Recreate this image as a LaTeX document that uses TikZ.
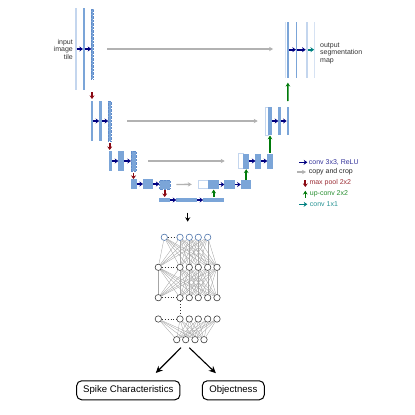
\documentclass[tikz,border=0pt]{standalone}
\usepackage{fontspec}
\setmainfont{Liberation Sans}
\usetikzlibrary{arrows.meta}
\definecolor{UnetBlue}{HTML}{7BA5D8}
\definecolor{UnetPale}{HTML}{C4D6EE}
\definecolor{UnetEdge}{HTML}{5F8CCB}
\definecolor{UnetNavy}{HTML}{000080}
\definecolor{UnetRed}{HTML}{8B0A14}
\definecolor{UnetGreen}{HTML}{007A0A}
\definecolor{UnetTeal}{HTML}{008080}
\definecolor{UnetGrey}{HTML}{B2B2B2}
\begin{document}
\begin{tikzpicture}[x=1pt,y=-1pt]
\tikzset{wh/.style 2 args={minimum width=#1pt,minimum height=#2pt},
barbox/.style={fill=UnetBlue,inner sep=0pt,outer sep=0pt},
palebox/.style={fill=UnetPale,inner sep=0pt,outer sep=0pt},
dotbox/.style={barbox,draw=UnetEdge,densely dotted,line width=.4pt},
whitebox/.style={fill=white,draw=UnetPale,line width=.7pt,inner sep=0pt,outer sep=0pt},
conv/.style={-{Stealth[length=3.6pt,width=5pt]},UnetNavy,line width=1.6pt},
final/.style={-{Stealth[length=3.6pt,width=5pt]},UnetTeal,line width=1.6pt},
crop/.style={-{Stealth[length=4pt,width=4.4pt]},UnetGrey,line width=1.3pt},
pool/.style={-{Stealth[length=3.6pt,width=5pt]},UnetRed,line width=1.7pt},
upconv/.style={-{Stealth[length=3.8pt,width=4.6pt]},UnetGreen,line width=1.6pt},
neuron/.style={circle,draw=black!75,fill=white,line width=.6pt,inner sep=0pt,minimum size=6.4pt},
inneuron/.style={neuron,draw=UnetEdge!85!black},
link/.style={black!35,line width=.35pt},
caption/.style={font=\fontsize{7}{7.5}\selectfont,text=black!80,inner sep=0pt},
legend/.style={font=\fontsize{7}{7.5}\selectfont,anchor=west,inner sep=0pt},
outbox/.style={draw=black,line width=1pt,rounded corners=5pt,font=\fontsize{9.6}{11}\selectfont,minimum height=19pt,inner sep=0pt},
bigarr/.style={-{Stealth[length=7pt,width=6.5pt]},black,line width=1.1pt}}
\useasboundingbox (0,0) rectangle (415,415);
% contracting side
\node[palebox,wh={1.6}{82}] (a1) at (75.7,49) {};
\node[barbox,wh={1.6}{82}] (a2) at (83.7,49) {};
\node[dotbox,wh={1.4}{70}] (a3) at (92,44) {};
\node[barbox,wh={1.6}{40}] (b1) at (92,121) {};
\node[barbox,wh={3}{40}] (b2) at (100.7,121) {};
\node[dotbox,wh={3}{40}] (b3) at (109.7,121) {};
\node[barbox,wh={3}{20}] (c1) at (110.7,161) {};
\node[barbox,wh={5.4}{20}] (c2) at (121,161) {};
\node[dotbox,wh={5}{20}] (c3) at (133.5,161) {};
\node[barbox,wh={5.6}{10}] (d1) at (133.9,184) {};
\node[barbox,wh={10.4}{10}] (d2) at (148.2,184) {};
\node[dotbox,wh={10.4}{9}] (d3) at (164.7,184.5) {};
% bottom
\node[barbox,wh={11}{4.6}] (e1) at (164.5,200) {};
\node[barbox,wh={21}{4.6}] (e2) at (186.8,200) {};
\node[barbox,wh={21}{4.6}] (e3) at (213.7,200) {};
% expanding side
\node[whitebox,wh={10}{8.7}] (f0) at (203.3,184.3) {};
\node[barbox,wh={10.7}{9}] (f1) at (213.7,184.5) {};
\node[barbox,wh={10.7}{9}] (f2) at (229.7,184.5) {};
\node[barbox,wh={10.3}{9}] (f3) at (245.9,184.5) {};
\node[whitebox,wh={5.2}{15}] (g0) at (240.8,161) {};
\node[barbox,wh={5.6}{15}] (g1) at (246.2,161) {};
\node[barbox,wh={5.6}{15}] (g2) at (258.2,161) {};
\node[barbox,wh={5.4}{15}] (g3) at (270,161) {};
\node[whitebox,wh={2.6}{28}] (h0) at (267,121) {};
\node[barbox,wh={3.2}{28}] (h1) at (270,121) {};
\node[barbox,wh={2.4}{28}] (h2) at (279.5,121) {};
\node[barbox,wh={2.6}{28}] (h3) at (288,121) {};
\node[palebox,wh={1}{56},fill=UnetPale!70] (j0) at (285.6,49.7) {};
\node[barbox,wh={2.3}{56}] (j1) at (287.8,49.7) {};
\node[barbox,wh={1.5}{56}] (j2) at (296.7,49.7) {};
\node[palebox,wh={2}{56}] (j3) at (306.7,49.7) {};
\node[palebox,wh={1.3}{56},fill=UnetPale!70] (j4) at (314.7,49.7) {};
% labels
\node[caption,align=right,anchor=east] (intext) at (73,49) {input\\image\\tile};
\node[caption,align=left,anchor=west] (outtext) at (320,53) {output\\segmentation\\map};
% conv arrows
\draw[conv] (a1) -- (a2);
\draw[conv] (a2) -- (a2 -| a3.west);
\draw[conv] (b1) -- (b2);
\draw[conv] (b2) -- (b3);
\draw[conv] (c1) -- (c2);
\draw[conv] (c2) -- (c3);
\draw[conv] (d1) -- (d2);
\draw[conv] (d2) -- (d3.west |- d2);
\draw[conv] (e1) -- (e2);
\draw[conv] (e2) -- (e3);
\draw[conv] (f1) -- (f2);
\draw[conv] (f2) -- (f3);
\draw[conv] (g1) -- (g2);
\draw[conv] (g2) -- (g3);
\draw[conv] (h1) -- (h2);
\draw[conv] (h2) -- (h3);
\draw[conv] (j1) -- (j2);
\draw[conv] (j2) -- (j3);
\draw[final] (j3) -- (j4);
% copy and crop
\draw[crop,shorten <=14.5pt,shorten >=12pt] (a3.east |- a2) -- (j0.west |- a2);
\draw[crop,shorten <=16pt,shorten >=8pt] (b3) -- (h0);
\draw[crop,shorten <=12pt,shorten >=13.5pt] (c3) -- (g0);
\draw[crop,shorten <=6.5pt,shorten >=6.5pt] (d3) -- (f0);
% pooling and up-conv
\draw[pool,shorten <=13pt,shorten >=2pt] (a3.south) -- (b1.north);
\draw[pool,shorten <=2pt,shorten >=1pt] (b3.south) -- (b3.south |- c1.north);
\draw[pool,shorten <=2pt] (c3.south) -- (c3.south |- d1.north);
\draw[pool,shorten <=1pt,shorten >=.7pt] (d3.south) -- (d3.south |- e1.north);
\draw[upconv,shorten <=.5pt,shorten >=.5pt] (e3) -- (f1);
\draw[upconv,shorten <=.5pt,shorten >=.7pt] (f3.north -| g1) -- (g1);
\draw[upconv,shorten <=1pt,shorten >=.5pt] (g3) -- (h1);
\draw[upconv,shorten <=6pt,shorten >=5pt] (h3) -- (j1);
% legend
\coordinate (l1) at (299.3,162.3);
\coordinate (l2) at (297.3,172);
\coordinate (l3) at (305.3,180);
\coordinate (l4) at (305.3,197.7);
\coordinate (l5) at (299.3,204.3);
\node[legend,text=UnetNavy!80] (t1) at (308.7,162.3) {conv 3x3, ReLU};
\node[legend,text=black!85] (t2) at (308.7,172) {copy and crop};
\node[legend,text=UnetRed!85] (t3) at (309.3,183) {max pool 2x2};
\node[legend,text=UnetGreen!85] (t4) at (309.7,194) {up-conv 2x2};
\node[legend,text=UnetTeal!85] (t5) at (309.7,204.3) {conv 1x1};
\draw[conv,shorten >=1.4pt] (l1) -- (t1);
\draw[crop,shorten >=2.7pt] (l2) -- (t2);
\draw[pool] (l3) -- ++(0,7);
\draw[upconv] (l4) -- ++(0,-7);
\draw[final,shorten >=2.4pt] (l5) -- (t5);
% detection head
\coordinate (down1) at (187.7,212.7);
\coordinate (down2) at (187.7,221.7);
\draw[-{Stealth[length=4.4pt,width=5pt]},black,line width=1.2pt] (down1) -- (down2);
\foreach \i/\x in {1/164.3,2/180,3/189.3,4/198.3,5/207.7}
  \node[inneuron] (n1-\i) at (\x,237.3) {};
\foreach \r/\y in {2/267.3,3/297.7,4/319}
  \foreach \i/\x in {1/158.3,2/180,3/189.3,4/198.3,5/207.7,6/217}
    \node[neuron] (n\r-\i) at (\x,\y) {};
\foreach \i/\x in {1/176.7,2/185.7,3/195,4/204}
  \node[neuron] (n5-\i) at (\x,339.7) {};
\foreach \i in {1,...,5}
  \foreach \j in {1,...,6}
    \draw[link] (n1-\i) -- (n2-\j);
\foreach \i in {1,...,6}
  \foreach \j in {1,...,6}
    \draw[link] (n2-\i) -- (n3-\j);
\foreach \i in {1,...,6}
  \foreach \j in {1,...,4}
    \draw[link] (n4-\i) -- (n5-\j);
\foreach \r in {1,2,3,4}
  \draw[black!80,line width=.9pt,dotted] (n\r-1) -- (n\r-2);
\draw[black!80,line width=.9pt,dotted] (n3-2) -- (n4-2);
% outputs
\node[outbox,minimum width=103.3pt] (spike) at (128.3,390.3) {Spike Characteristics};
\node[outbox,minimum width=62pt] (object) at (233.3,390.3) {Objectness};
\coordinate (fork1) at (181,347.7);
\coordinate (fork2) at (189.3,347.7);
\draw[bigarr,shorten >=10.3pt] (fork1) -- (spike.north -| 148.5,380);
\draw[bigarr,shorten >=10.3pt] (fork2) -- (object.north -| 223.3,380);
\end{tikzpicture}
\end{document}
